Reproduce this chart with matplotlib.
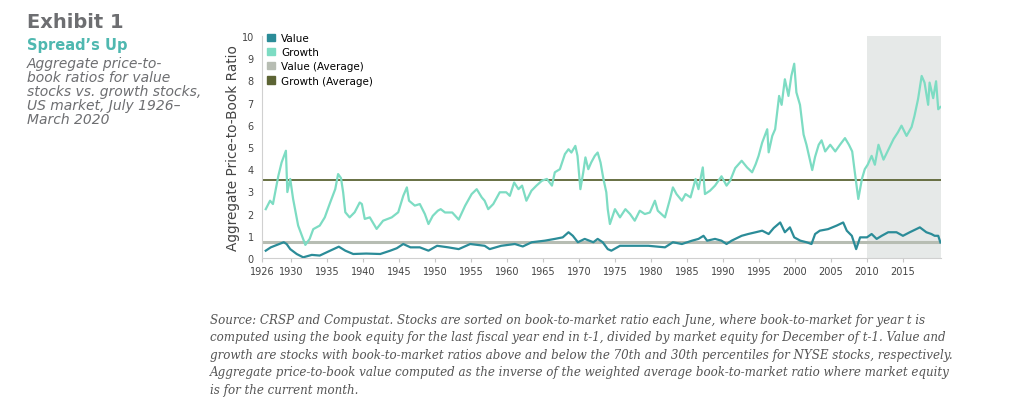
import matplotlib.pyplot as plt
from matplotlib.patches import Patch

# Growth portfolio P/B (year, ratio)
growth_years = [
    1926.5, 1927.1, 1927.5, 1928.25, 1928.7, 1929.3, 1929.5, 1929.9, 1930.3, 1931.0,
    1931.7, 1932.0, 1932.6, 1933.1, 1934.0, 1934.7, 1935.45, 1936.15, 1936.55, 1936.95,
    1937.25, 1937.55, 1938.15, 1938.85, 1939.55, 1939.85, 1940.25, 1940.95, 1941.9, 1942.8,
    1944.0, 1944.9, 1945.6, 1946.1, 1946.4, 1947.2, 1947.9, 1948.6, 1949.1, 1949.7,
    1950.4, 1950.8, 1951.4, 1952.4, 1953.3, 1954.2, 1955.1, 1955.8, 1956.5, 1956.9,
    1957.4, 1958.1, 1959.0, 1959.9, 1960.4, 1961.0, 1961.6, 1962.1, 1962.7, 1963.4,
    1964.1, 1964.85, 1965.55, 1966.25, 1966.65, 1967.35, 1968.05, 1968.55, 1968.95, 1969.5,
    1969.8, 1970.2, 1970.6, 1970.9, 1971.3, 1971.7, 1972.2, 1972.6, 1973.0, 1973.4,
    1973.8, 1974.0, 1974.3, 1975.0, 1975.7, 1976.45, 1977.1, 1977.75, 1978.45, 1979.15,
    1979.85, 1980.55, 1980.95, 1981.95, 1982.65, 1983.05, 1983.55, 1984.3, 1984.8, 1985.5,
    1986.2, 1986.6, 1987.2, 1987.5, 1988.2, 1988.9, 1989.8, 1990.5, 1991.0, 1991.7,
    1992.6, 1993.35, 1994.05, 1994.55, 1994.95, 1995.45, 1996.15, 1996.35, 1996.85, 1997.25,
    1997.8, 1998.15, 1998.6, 1999.1, 1999.5, 1999.9, 2000.2, 2000.7, 2001.2, 2001.6,
    2002.1, 2002.4, 2002.8, 2003.3, 2003.7, 2004.2, 2004.9, 2005.6, 2006.25, 2006.95,
    2007.5, 2007.95, 2008.3, 2008.8, 2009.3, 2009.7, 2010.1, 2010.65, 2011.1, 2011.6,
    2012.3, 2013.0, 2013.7, 2014.3, 2014.8, 2015.5, 2016.2, 2016.6, 2017.1, 2017.6,
    2018.0, 2018.5, 2018.7, 2019.2, 2019.6, 2019.9, 2020.2,
]
growth_pb = [
    2.2, 2.58, 2.43, 3.7, 4.3, 4.83, 2.97, 3.56, 2.66, 1.46,
    0.86, 0.59, 0.86, 1.3, 1.46, 1.83, 2.5, 3.1, 3.78, 3.6,
    2.96, 2.06, 1.83, 2.06, 2.5, 2.43, 1.76, 1.83, 1.31, 1.68,
    1.83, 2.06, 2.8, 3.18, 2.58, 2.36, 2.43, 1.98, 1.53, 1.9,
    2.13, 2.2, 2.05, 2.05, 1.73, 2.36, 2.88, 3.1, 2.73, 2.58,
    2.2, 2.43, 2.96, 2.96, 2.8, 3.4, 3.1, 3.26, 2.58, 3.03,
    3.26, 3.48, 3.56, 3.26, 3.86, 4.0, 4.68, 4.9, 4.75, 5.05,
    4.6, 3.1, 3.86, 4.53, 4.0, 4.3, 4.6, 4.75, 4.3, 3.56,
    2.96, 2.2, 1.53, 2.2, 1.83, 2.2, 1.98, 1.68, 2.13, 1.98,
    2.05, 2.58, 2.13, 1.83, 2.66, 3.18, 2.88, 2.58, 2.88, 2.73,
    3.56, 3.1, 4.08, 2.88, 3.03, 3.26, 3.68, 3.26, 3.48, 4.05,
    4.38, 4.08, 3.86, 4.23, 4.6, 5.2, 5.8, 4.76, 5.5, 5.8,
    7.3, 6.9, 8.05, 7.3, 8.2, 8.75, 7.46, 6.9, 5.56, 5.1,
    4.4, 3.96, 4.56, 5.1, 5.3, 4.8, 5.1, 4.8, 5.1, 5.4,
    5.1, 4.8, 3.9, 2.66, 3.56, 4.0, 4.2, 4.6, 4.2, 5.1,
    4.43, 4.9, 5.36, 5.66, 5.96, 5.5, 5.9, 6.4, 7.16, 8.2,
    7.9, 6.9, 7.9, 7.2, 7.96, 6.7, 6.8,
]

# Value portfolio P/B
value_years = [
    1926.5, 1927.2, 1929.0, 1929.4, 1929.9, 1930.8, 1931.7, 1932.9, 1934.0, 1935.45,
    1936.65, 1937.55, 1938.65, 1940.45, 1942.4, 1943.8, 1944.7, 1945.6, 1946.6, 1947.9,
    1949.1, 1950.3, 1951.85, 1953.3, 1954.9, 1956.9, 1957.6, 1959.2, 1961.1, 1962.2,
    1963.45, 1965.25, 1966.65, 1967.75, 1968.55, 1969.15, 1969.85, 1970.8, 1972.0, 1972.6,
    1973.3, 1974.0, 1974.5, 1975.7, 1976.45, 1977.75, 1979.65, 1981.95, 1983.05, 1984.3,
    1985.7, 1986.6, 1987.3, 1987.8, 1988.9, 1989.8, 1990.5, 1991.2, 1992.6, 1993.5,
    1994.55, 1995.45, 1996.35, 1997.05, 1997.95, 1998.6, 1999.3, 1999.9, 2000.75, 2001.6,
    2002.3, 2002.8, 2003.45, 2004.6, 2005.8, 2006.7, 2007.2, 2007.9, 2008.5, 2009.05,
    2010.0, 2010.65, 2011.35, 2012.05, 2012.95, 2014.1, 2015.0, 2015.95, 2017.35, 2018.25,
    2018.95, 2019.4, 2019.9, 2020.2,
]
value_pb = [
    0.33, 0.48, 0.71, 0.63, 0.4, 0.18, 0.03, 0.14, 0.11, 0.33,
    0.51, 0.33, 0.18, 0.2, 0.18, 0.33, 0.44, 0.63, 0.48, 0.48,
    0.33, 0.55, 0.48, 0.4, 0.63, 0.55, 0.4, 0.55, 0.63, 0.52,
    0.71, 0.78, 0.86, 0.93, 1.16, 1.0, 0.71, 0.86, 0.71, 0.86,
    0.71, 0.4, 0.33, 0.55, 0.55, 0.55, 0.55, 0.48, 0.71, 0.63,
    0.78, 0.86, 1.0, 0.78, 0.86, 0.78, 0.63, 0.78, 1.0, 1.08,
    1.16, 1.23, 1.08, 1.35, 1.6, 1.16, 1.38, 0.93, 0.78, 0.71,
    0.63, 1.08, 1.23, 1.3, 1.46, 1.6, 1.23, 1.0, 0.4, 0.93,
    0.93, 1.08, 0.86, 1.0, 1.16, 1.16, 1.0, 1.16, 1.38, 1.16,
    1.08, 1.0, 1.0, 0.7,
]

value_avg = 0.72
growth_avg = 3.5
x_ticks = [1926, 1930, 1935, 1940, 1945, 1950, 1955, 1960, 1965, 1970,
           1975, 1980, 1985, 1990, 1995, 2000, 2005, 2010, 2015]

c_value = "#2b8c98"
c_growth = "#7ddcc3"
c_value_avg = "#b7bdb3"
c_growth_avg = "#5c6434"
c_text = "#6d6e71"

fig = plt.figure(figsize=(10.24, 4.10), dpi=100)
ax = fig.add_axes([0.256, 0.3683, 0.6627, 0.5415])

ax.axvspan(2010, 2020.25, color="#e6e9e8", lw=0, zorder=0)
ax.axhline(value_avg, color=c_value_avg, lw=2.2, zorder=1)
ax.axhline(growth_avg, color=c_growth_avg, lw=1.3, zorder=1)
ax.plot(growth_years, growth_pb, color=c_growth, lw=1.6, zorder=2)
ax.plot(value_years, value_pb, color=c_value, lw=1.6, zorder=3)

ax.set_xlim(1926, 2020.25)
ax.set_ylim(0, 10)
ax.set_xticks(x_ticks)
ax.set_xticklabels([str(y) for y in x_ticks], fontsize=7, color="#444444",
                   family="Liberation Sans Narrow")
ax.set_yticks(range(0, 11))
ax.set_yticklabels([str(v) for v in range(0, 11)], fontsize=7, color="#444444",
                   family="Liberation Sans Narrow")
ax.tick_params(axis="y", length=0, pad=6)
ax.tick_params(axis="x", length=3, color="#c8c8c8", pad=3)
for s in ["top", "right"]:
    ax.spines[s].set_visible(False)
for s in ["left", "bottom"]:
    ax.spines[s].set_color("#d0d0d0")
    ax.spines[s].set_linewidth(0.8)
ax.set_ylabel("Aggregate Price-to-Book Ratio", fontsize=9.8, color="#444444", labelpad=1)

handles = [Patch(color=c_value, label="Value"),
           Patch(color=c_growth, label="Growth"),
           Patch(color=c_value_avg, label="Value (Average)"),
           Patch(color=c_growth_avg, label="Growth (Average)")]
ax.legend(handles=handles, loc="upper left", bbox_to_anchor=(-0.006, 1.055), frameon=False,
          handlelength=0.7, handleheight=0.7, handletextpad=0.6, labelspacing=0.4,
          prop={"family": "Liberation Sans Narrow", "size": 7.5})

# left-hand caption
fig.text(0.026, 0.945, "Exhibit 1", fontsize=14, fontweight="bold", color=c_text, va="center")
fig.text(0.026, 0.888, "Spread\u2019s Up", fontsize=10.5, fontweight="bold", color="#4fb8b0",
         va="center")
fig.text(0.026, 0.862, "Aggregate price-to-\nbook ratios for value\nstocks vs. growth stocks,\n"
         "US market, July 1926\u2013\nMarch 2020", fontsize=10, style="italic", color=c_text,
         va="top", linespacing=1.02)

note = ("Source: CRSP and Compustat. Stocks are sorted on book-to-market ratio each June, where book-to-market for year t is\n"
        "computed using the book equity for the last fiscal year end in t-1, divided by market equity for December of t-1. Value and\n"
        "growth are stocks with book-to-market ratios above and below the 70th and 30th percentiles for NYSE stocks, respectively.\n"
        "Aggregate price-to-book value computed as the inverse of the weighted average book-to-market ratio where market equity\n"
        "is for the current month.")
fig.text(0.205, 0.235, note, fontsize=8.6, style="italic", family="DejaVu Serif",
         color="#555555", va="top", linespacing=1.45)

fig.savefig("out.png", dpi=100, facecolor="white")
